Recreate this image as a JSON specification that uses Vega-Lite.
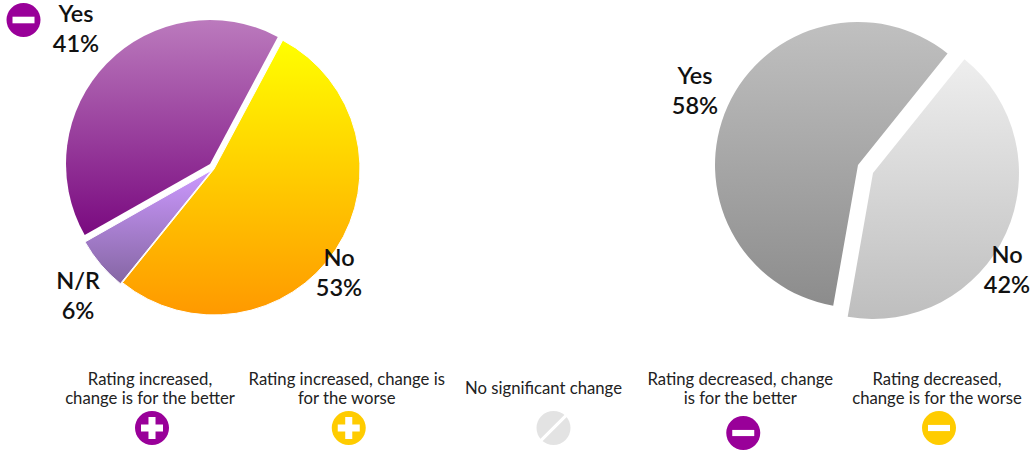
{
"$schema":"https://vega.github.io/schema/vega-lite/v6.json",
"padding":0,
"background":"white",
"spacing":0,
"config":{"view":{"stroke":null},"concat":{"spacing":0},"text":{"font":"Lato"}},
"datasets":{
"left":[{"answer":"No","pct":53,"label":"No\n53%"},{"answer":"N/R","pct":6,"label":"N/R\n6%"},{"answer":"Yes","pct":41,"label":"Yes\n41%"}],
"right":[{"answer":"No","pct":42,"label":"No\n42%"},{"answer":"Yes","pct":58,"label":"Yes\n58%"}],
"key":[
{"name":"Rating increased,\nchange is for the better","direction":"increased","effect":"better"},
{"name":"Rating increased, change is\nfor the worse","direction":"increased","effect":"worse"},
{"name":"No significant change","direction":"none","effect":"none"},
{"name":"Rating decreased, change\nis for the better","direction":"decreased","effect":"better"},
{"name":"Rating decreased,\nchange is for the worse","direction":"decreased","effect":"worse"}]
},
"vconcat":[
{"spacing":273,"bounds":"flush","hconcat":[
{"width":424,"height":338,"data":{"name":"left"},
"transform":[{"stack":"pct","groupby":[],"as":["a0","a1"]}],
"layer":[
{"transform":[{"filter":"datum.answer==='No'"}],
"mark":{"type":"arc","radius":146,"xOffset":2,"yOffset":0,"stroke":"white","strokeWidth":1,"color":{"x1":0,"y1":0,"x2":0,"y2":1,"gradient":"linear","stops":[{"offset":0,"color":"#FFFF00"},{"offset":1,"color":"#FF9900"}]}},
"encoding":{"theta":{"field":"a0","type":"quantitative","scale":{"domain":[0,100],"range":[0.49,6.773]}},"theta2":{"field":"a1"}}},
{"transform":[{"filter":"datum.answer==='N/R'"}],
"mark":{"type":"arc","radius":146,"xOffset":0,"yOffset":1,"stroke":"white","strokeWidth":1,"color":{"x1":0,"y1":0,"x2":0,"y2":1,"gradient":"linear","stops":[{"offset":0,"color":"#CC99FF"},{"offset":1,"color":"#8566A3"}]}},
"encoding":{"theta":{"field":"a0","type":"quantitative","scale":{"domain":[0,100],"range":[0.48,6.763]}},"theta2":{"field":"a1"}}},
{"transform":[{"filter":"datum.answer==='Yes'"}],
"mark":{"type":"arc","radius":144,"xOffset":-2,"yOffset":-5,"color":{"x1":0,"y1":0,"x2":0,"y2":1,"gradient":"linear","stops":[{"offset":0,"color":"#BB7ABD"},{"offset":1,"color":"#7A0A80"}]}},
"encoding":{"theta":{"field":"a0","type":"quantitative","scale":{"domain":[0,100],"range":[0.48,6.763]}},"theta2":{"field":"a1"}}},
{"transform":[{"filter":"datum.answer==='Yes'"}],"mark":{"type":"text","dx":-136,"dy":-154,"lineBreak":"\n","lineHeight":30,"fontSize":23.5,"fontWeight":600,"color":"#111111"},"encoding":{"text":{"field":"label"}}},
{"transform":[{"filter":"datum.answer==='No'"}],"mark":{"type":"text","dx":127,"dy":90,"lineBreak":"\n","lineHeight":30,"fontSize":23.5,"fontWeight":600,"color":"#111111"},"encoding":{"text":{"field":"label"}}},
{"transform":[{"filter":"datum.answer==='N/R'"}],"mark":{"type":"text","dx":-134,"dy":113,"lineBreak":"\n","lineHeight":30,"fontSize":23.5,"fontWeight":600,"color":"#111111"},"encoding":{"text":{"field":"label"}}},
{"transform":[{"filter":"datum.answer==='Yes'"}],"mark":{"type":"point","filled":true,"shape":"circle","size":1156,"opacity":1,"color":"#990099","xOffset":-188.5,"yOffset":-149}},
{"transform":[{"filter":"datum.answer==='Yes'"}],"mark":{"type":"point","filled":true,"shape":"M-1,-0.3H1V0.3H-1Z","size":484,"opacity":1,"color":"white","xOffset":-188.5,"yOffset":-149}}
]},
{"width":338,"height":338,"data":{"name":"right"},
"transform":[{"stack":"pct","groupby":[],"as":["a0","a1"]}],
"layer":[
{"transform":[{"filter":"datum.answer==='No'"}],
"mark":{"type":"arc","radius":146,"xOffset":7,"yOffset":4,"color":{"x1":0,"y1":0,"x2":0,"y2":1,"gradient":"linear","stops":[{"offset":0,"color":"#EEEEEE"},{"offset":1,"color":"#BEBEBE"}]}},
"encoding":{"theta":{"field":"a0","type":"quantitative","scale":{"domain":[0,100],"range":[0.677,6.96]}},"theta2":{"field":"a1"}}},
{"transform":[{"filter":"datum.answer==='Yes'"}],
"mark":{"type":"arc","radius":143,"xOffset":-8,"yOffset":-4,"color":{"x1":0,"y1":0,"x2":0,"y2":1,"gradient":"linear","stops":[{"offset":0,"color":"#C0C0C0"},{"offset":1,"color":"#8C8C8C"}]}},
"encoding":{"theta":{"field":"a0","type":"quantitative","scale":{"domain":[0,100],"range":[0.677,6.96]}},"theta2":{"field":"a1"}}},
{"transform":[{"filter":"datum.answer==='Yes'"}],"mark":{"type":"text","dx":-171,"dy":-92,"lineBreak":"\n","lineHeight":30,"fontSize":23.5,"fontWeight":600,"color":"#111111"},"encoding":{"text":{"field":"label"}}},
{"transform":[{"filter":"datum.answer==='No'"}],"mark":{"type":"text","dx":141,"dy":87,"lineBreak":"\n","lineHeight":30,"fontSize":23.5,"fontWeight":600,"color":"#111111"},"encoding":{"text":{"field":"label"}}}
]}
]},
{"width":1035,"height":115,"data":{"name":"key"},
"encoding":{"x":{"field":"name","type":"nominal","axis":null,"scale":{"type":"point","padding":0,"range":[150,937],"domain":["Rating increased,\nchange is for the better","Rating increased, change is\nfor the worse","No significant change","Rating decreased, change\nis for the better","Rating decreased,\nchange is for the worse"]}}},
"layer":[
{"transform":[{"filter":"datum.direction!=='none'"}],"mark":{"type":"text","dy":-15.5,"lineBreak":"\n","lineHeight":18.5,"fontSize":16.7,"color":"#222222"},"encoding":{"text":{"field":"name"}}},
{"transform":[{"filter":"datum.direction==='none'"}],"mark":{"type":"text","dy":-6.5,"lineBreak":"\n","lineHeight":18.5,"fontSize":16.7,"color":"#222222"},"encoding":{"text":{"field":"name"}}},
{"transform":[{"filter":"datum.direction==='increased'||(datum.direction==='decreased'&&datum.effect==='worse')"}],"mark":{"type":"point","filled":true,"shape":"circle","size":1156,"opacity":1,"xOffset":2,"yOffset":32.5},
"encoding":{"color":{"field":"effect","type":"nominal","legend":null,"scale":{"domain":["better","worse","none"],"range":["#990099","#FFCC00","#E3E3E3"]}}}},
{"transform":[{"filter":"datum.direction==='increased'||(datum.direction==='decreased'&&datum.effect==='worse')"}],"mark":{"type":"point","filled":true,"size":484,"opacity":1,"color":"white","xOffset":2,"yOffset":32.5},
"encoding":{"shape":{"field":"direction","type":"nominal","legend":null,"scale":{"domain":["increased","decreased","none"],"range":["M-1,-0.32H-0.32V-1H0.32V-0.32H1V0.32H0.32V1H-0.32V0.32H-1Z","M-1,-0.28H1V0.28H-1Z","M-1.25,1.05L1.05,-1.25L1.25,-1.05L-1.05,1.25Z"]}}}},
{"transform":[{"filter":"datum.direction==='none'"}],"mark":{"type":"point","filled":true,"shape":"circle","size":1156,"opacity":1,"color":"#E3E3E3","xOffset":10,"yOffset":32.5}},
{"transform":[{"filter":"datum.direction==='none'"}],"mark":{"type":"point","filled":true,"shape":"M-1.25,1.05L1.05,-1.25L1.25,-1.05L-1.05,1.25Z","size":484,"opacity":1,"color":"white","xOffset":10,"yOffset":32.5}},
{"transform":[{"filter":"datum.direction==='decreased'&&datum.effect==='better'"}],"mark":{"type":"point","filled":true,"shape":"circle","size":1156,"opacity":1,"color":"#990099","xOffset":3,"yOffset":37.5}},
{"transform":[{"filter":"datum.direction==='decreased'&&datum.effect==='better'"}],"mark":{"type":"point","filled":true,"shape":"M-1,-0.28H1V0.28H-1Z","size":484,"opacity":1,"color":"white","xOffset":3,"yOffset":37.5}}
]}
]
}
